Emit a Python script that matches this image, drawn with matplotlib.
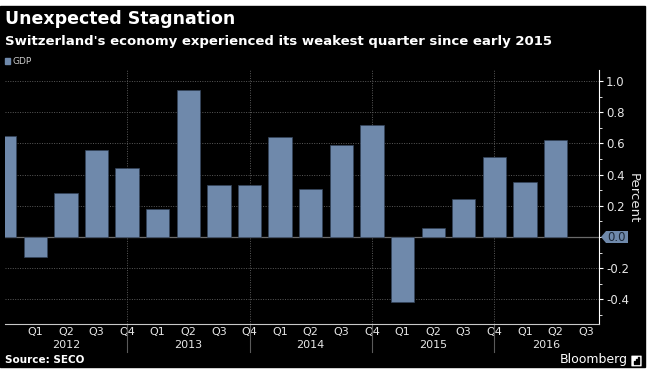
import numpy as np
import matplotlib.pyplot as plt
from matplotlib.patches import Rectangle, FancyBboxPatch, Polygon
from matplotlib.transforms import blended_transform_factory

# quarterly GDP change (percent), first value is 2011 Q4 (cut off at left edge)
gdp = [0.65, -0.13, 0.28, 0.56, 0.44, 0.18, 0.94, 0.33, 0.33, 0.64,
       0.31, 0.59, 0.72, -0.42, 0.06, 0.24, 0.51, 0.35, 0.62]
quarter_labels = ["Q1", "Q2", "Q3", "Q4"] * 4 + ["Q1", "Q2", "Q3"]
years = ["2012", "2013", "2014", "2015", "2016"]
yticks = [-0.4, -0.2, 0.2, 0.4, 0.6, 0.8, 1.0]

W, H = 653, 377
BAR = "#6f89ab"
TXT = "#e6e6e6"


def fx(px):
    return px / W


def fy(py):
    return 1 - py / H


fig = plt.figure(figsize=(W / 100, H / 100), dpi=100, facecolor="white")
fig.patches.append(Rectangle((0, fy(367)), fx(645), (367 - 6) / H,
                             transform=fig.transFigure, color="black", zorder=-5))

ax = fig.add_axes([fx(5), fy(324), fx(594), 254 / H])
ax.set_zorder(2)
ax.set_facecolor("black")

x = np.arange(len(gdp)) - 1
ax.bar(x, gdp, width=0.76, color=BAR, edgecolor="#34435a", linewidth=0.5, zorder=3)

ax.set_xlim(-0.99, 18.42)
ax.set_ylim(-0.558, 1.07)

# grid
for y in yticks:
    ax.axhline(y, color="#5a5a5a", ls=(0, (1, 1.5)), lw=0.7, zorder=1)
ax.axhline(0, color="#6a6a6a", lw=0.9, zorder=2)

trans = blended_transform_factory(ax.transData, ax.transAxes)
seps = [3, 7, 11, 15]
for s in seps:
    ax.axvline(s, color="#5a5a5a", ls=(0, (1, 1.5)), lw=0.7, zorder=1)
    ax.plot([s, s], [0, -0.11], transform=trans, color="#5a5a5a", lw=0.8,
            clip_on=False)

# year labels centered between separators
bounds = [-0.99] + seps + [18.42]
for i, yr in enumerate(years):
    mid = (bounds[i] + bounds[i + 1]) / 2
    ax.text(mid, -0.083, yr, transform=trans, ha="center", va="center",
            color=TXT, fontsize=8)

for side in ["left", "top"]:
    ax.spines[side].set_visible(False)
ax.spines["right"].set_color("white")
ax.spines["bottom"].set_color("#c8c8c8")

ax.set_xticks(range(len(quarter_labels)))
ax.set_xticklabels(quarter_labels)
ax.tick_params(axis="x", length=0, pad=2.5, colors=TXT, labelsize=8)

ax.yaxis.tick_right()
ax.set_yticks(yticks)
ax.set_yticklabels([f"{v:.1f}" for v in yticks])
ax.set_yticks(np.arange(-0.5, 1.05, 0.1), minor=True)
ax.tick_params(axis="y", which="major", length=3, colors="white",
               labelcolor=TXT, labelsize=8.5, pad=2)
ax.tick_params(axis="y", which="minor", length=2.5, colors="white")

# highlighted 0.0 label on the axis
fig.patches.append(Polygon([(fx(601), fy(237)), (fx(606), fy(231)), (fx(628), fy(231)),
                            (fx(628), fy(243)), (fx(606), fy(243))],
                           closed=True, transform=fig.transFigure, fc=BAR, ec="none",
                           zorder=5))
fig.text(fx(607), fy(237), "0.0", fontsize=8.5, color="#1c2838", va="center",
         ha="left", zorder=6)

fig.text(fx(633), fy(198), "Percent", rotation=270, ha="center", va="center",
         color=TXT, fontsize=9.5)

# titles
fig.text(fx(5), fy(19), "Unexpected Stagnation", fontsize=12.5,
         fontweight="bold", color="white", va="center")
fig.text(fx(5), fy(41), "Switzerland's economy experienced its weakest quarter since early 2015",
         fontsize=9.5, fontweight="bold", color="white", va="center")

# legend
fig.patches.append(Rectangle((fx(5), fy(64)), fx(5), 6 / H,
                             transform=fig.transFigure, color=BAR))
fig.text(fx(12), fy(61), "GDP", fontsize=6.5, color="#cccccc", va="center")

# footer
fig.text(fx(5), fy(360), "Source: SECO", fontsize=7.5, fontweight="bold",
         color="white", va="center")
fig.text(fx(628), fy(360), "Bloomberg", fontsize=9, color="white",
         ha="right", va="center")
fig.patches.append(FancyBboxPatch((fx(632), fy(366)), fx(9), 10 / H,
                                  boxstyle="round,pad=0.001",
                                  transform=fig.transFigure, fc="white", ec="none"))
for i, h in enumerate([3, 5, 7]):
    fig.patches.append(Rectangle((fx(634 + i * 2), fy(364)), fx(1), h / H,
                                 transform=fig.transFigure, color="black"))

fig.savefig("out.png", dpi=100, facecolor="white")
